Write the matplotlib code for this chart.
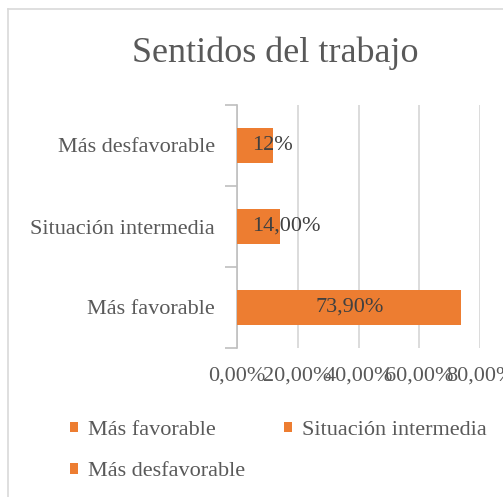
import matplotlib
matplotlib.use("Agg")
import matplotlib.pyplot as plt
from matplotlib.patches import Patch
from matplotlib.lines import Line2D

plt.rcParams['font.family'] = ['Liberation Serif', 'DejaVu Serif']

# data
categories = ['Más favorable', 'Situación intermedia', 'Más desfavorable']
values = [73.9, 14.0, 12.0]
value_labels = ['73,90%', '14,00%', '12%']
xticks = [0, 20, 40, 60, 80]
xtick_labels = ['0,00%', '20,00%', '40,00%', '60,00%', '80,00%']

bar_color = '#ED7D31'
text_color = '#595959'
grid_color = '#D9D9D9'
fs = 16

fig = plt.figure(figsize=(5.03, 4.97), dpi=100)

# chart border (cropped at right/bottom like the reference)
fig.add_artist(Line2D([8 / 503, 8 / 503], [0, 1 - 9 / 497], color=grid_color, lw=1.2,
                      transform=fig.transFigure))
fig.add_artist(Line2D([8 / 503, 1], [1 - 9 / 497, 1 - 9 / 497], color=grid_color, lw=1.2,
                      transform=fig.transFigure))

ax = fig.add_axes([237 / 503, 1 - 348 / 497, 243 / 503, 243 / 497])

ypos = list(range(len(categories)))
ax.barh(ypos, values, height=0.44, color=bar_color, zorder=3)

for y, v, lab in zip(ypos, values, value_labels):
    if v < 20:
        ax.text(5.0, y, lab, ha='left', va='center', color='#404040', fontsize=fs, zorder=4)
    else:
        ax.text(v / 2, y, lab, ha='center', va='center', color='#404040', fontsize=fs, zorder=4)

ax.set_xlim(0, 80)
ax.set_ylim(-0.5, 2.5)
ax.set_xticks(xticks)
ax.set_xticklabels(xtick_labels, fontsize=fs, color=text_color)
ax.tick_params(axis='x', length=0, pad=13)
ax.xaxis.grid(True, color=grid_color, lw=1.3, zorder=0)

ax.set_yticks([-0.5, 0.5, 1.5, 2.5])
ax.set_yticklabels([])
ax.tick_params(axis='y', which='major', length=9, color='#BFBFBF', width=1.2)
ax.set_yticks(ypos, minor=True)
ax.set_yticklabels(categories, minor=True, fontsize=fs, color=text_color)
ax.tick_params(axis='y', which='minor', length=0, pad=16)

for side in ['top', 'right', 'bottom']:
    ax.spines[side].set_visible(False)
ax.spines['left'].set_color('#BFBFBF')
ax.spines['left'].set_linewidth(1.2)

fig.text(275 / 503, 1 - 53 / 497, 'Sentidos del trabajo', ha='center', va='center',
         fontsize=26, color=text_color)

# legend, row-major order like the reference
order = [0, 2, 1]
handles = [Patch(facecolor=bar_color, edgecolor='none') for _ in order]
fig.legend(handles, [categories[i] for i in order], ncol=2, frameon=False,
           loc='upper left', bbox_to_anchor=(50 / 503, 1 - 401 / 497),
           fontsize=fs, labelcolor=text_color, handlelength=0.35, handleheight=0.35,
           handletextpad=0.45, columnspacing=1.75, labelspacing=1.0)

fig.savefig('out.png', dpi=100)
